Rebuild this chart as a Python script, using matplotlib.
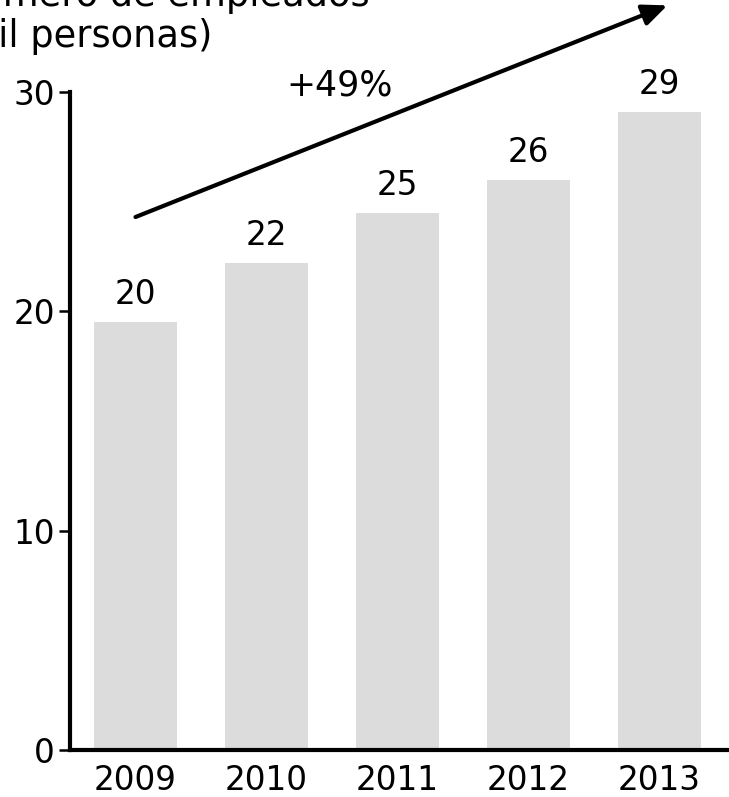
import matplotlib
matplotlib.use("Agg")
import matplotlib.pyplot as plt

years = ["2009", "2010", "2011", "2012", "2013"]
empleados = [19.5, 22.2, 24.5, 26.0, 29.1]
etiquetas = ["20", "22", "25", "26", "29"]
yticks = [0, 10, 20, 30]

FS = 23.5
plt.rcParams["font.family"] = ["DejaVu Sans"]

fig = plt.figure(figsize=(7.29, 7.97), dpi=100)
ax = fig.add_axes([70 / 729, 47 / 797, 1 - 70 / 729, 658 / 797])

x = list(range(len(years)))
ax.bar(x, empleados, width=0.634, color="#dcdcdc")
for xi, v, lab in zip(x, empleados, etiquetas):
    ax.annotate(lab, (xi, v), xytext=(0, 8), textcoords="offset points",
                ha="center", va="bottom", fontsize=FS)

ax.set_xlim(-0.5, 4.53)
ax.set_ylim(0, 30)
ax.set_xticks(x)
ax.set_xticklabels(years)
ax.set_yticks(yticks)
ax.tick_params(axis="x", length=0, pad=10, labelsize=FS)
ax.tick_params(axis="y", length=8, width=1.8, pad=3, labelsize=FS)
for s in ("top", "right"):
    ax.spines[s].set_visible(False)
for s in ("left", "bottom"):
    ax.spines[s].set_linewidth(3)

# growth arrow
ax.annotate("", xy=(4.06, 33.95), xytext=(0.0, 24.3),
            arrowprops=dict(arrowstyle="-|>,head_length=1.5,head_width=0.65",
                            lw=3, color="black", shrinkA=0, shrinkB=0),
            annotation_clip=False)
ax.text(1.56, 30.3, "+49%", ha="center", va="center", fontsize=FS + 1.5)

fig.text(370 / 729, 1 - 6 / 797, "Número de empleados", ha="right",
         va="baseline", fontsize=26.5)
fig.text(212 / 729, 1 - 47 / 797, "(mil personas)", ha="right",
         va="baseline", fontsize=26.5)

fig.savefig("out.png", dpi=100)
